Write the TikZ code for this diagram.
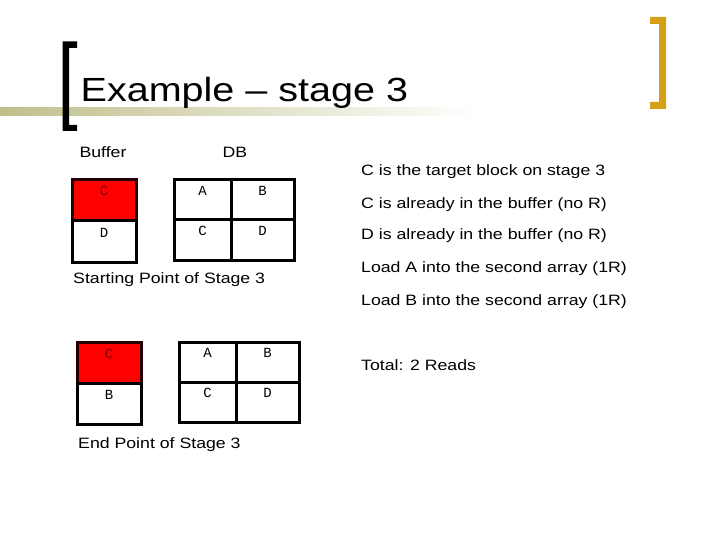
\documentclass[tikz,border=0pt]{standalone}
\usepackage{fontspec}
\setmainfont{Liberation Sans}[FakeStretch=1.18]
\newfontfamily\cellfont{Liberation Mono}
\usetikzlibrary{positioning}
\definecolor{stGold}{HTML}{D4A017}
\definecolor{stOlive}{HTML}{BFBF8C}
\definecolor{stRed}{HTML}{FF0000}
\tikzset{
  blk/.style={
    draw, line width=3pt, inner sep=0pt, outer sep=0pt,
    minimum height=40pt, text height=8pt, text depth=17pt,
    font=\cellfont\fontsize{14}{14}\selectfont
  },
  bufblk/.style={blk, minimum width=64pt, minimum height=41pt},
  hotblk/.style={bufblk, fill=stRed, draw=black!85!red, text=stRed!45!black},
  narrowblk/.style={blk, minimum width=57pt},
  wideblk/.style={blk, minimum width=63pt},
  note/.style={anchor=base west, inner sep=0pt, font=\fontsize{15}{18}\selectfont},
  heading/.style={note, anchor=base},
  titletext/.style={anchor=base west, inner sep=0pt, font=\fontsize{33.5}{40}\selectfont}
}

\begin{document}
\begin{tikzpicture}[x=1pt, y=-1pt]
  \useasboundingbox (0,0) rectangle (720,540);

  % title bar and brackets
  \shade[left color=stOlive, middle color=stOlive!75!white, right color=white] (0,108) rectangle (480,116);
  \fill[black] (62.5,41.5) -- (77,41.5) -- (77,48) -- (69,48) -- (69,125) -- (77,125) -- (77,131) -- (62.5,131) -- cycle;
  \fill[stGold] (666,17) -- (650,17) -- (650,24) -- (659,24) -- (659,102) -- (650,102) -- (650,109) -- (666,109) -- cycle;
  \node[titletext] (title) at (80.5,102) {Example – stage 3};

  % starting point
  \node[heading] (bufname) at (103,158) {Buffer};
  \node[heading] (dbname) at (235,158) {DB};
  \node[hotblk, anchor=north west] (sbc) at (72,180) {C};
  \node[bufblk, below=0pt of sbc] (sbd) {D};
  \node[narrowblk, anchor=north west] (sa) at (174,180) {A};
  \node[wideblk, right=0pt of sa] (sb) {B};
  \node[narrowblk, below=0pt of sa] (sc) {C};
  \node[wideblk, below=0pt of sb] (sd) {D};
  \node[note] (startcap) at (73,283) {Starting Point of Stage 3};

  % end point
  \node[hotblk, anchor=north west] (ebc) at (77,342) {C};
  \node[bufblk, below=0pt of ebc] (ebb) {B};
  \node[narrowblk, anchor=north west] (ea) at (179,342) {A};
  \node[wideblk, right=0pt of ea] (eb) {B};
  \node[narrowblk, below=0pt of ea] (ec) {C};
  \node[wideblk, below=0pt of eb] (ed) {D};
  \node[note] (endcap) at (78,448) {End Point of Stage 3};

  % steps
  \node[note] (n1) at (361,176) {C is the target block on stage 3};
  \node[note] (n2) at (361,208) {C is already in the buffer (no R)};
  \node[note] (n3) at (361,240) {D is already in the buffer (no R)};
  \node[note] (n4) at (361,272) {Load A into the second array (1R)};
  \node[note] (n5) at (361,305) {Load B into the second array (1R)};
  \node[note] (total) at (361,370) {Total: 2 Reads};
\end{tikzpicture}
\end{document}
